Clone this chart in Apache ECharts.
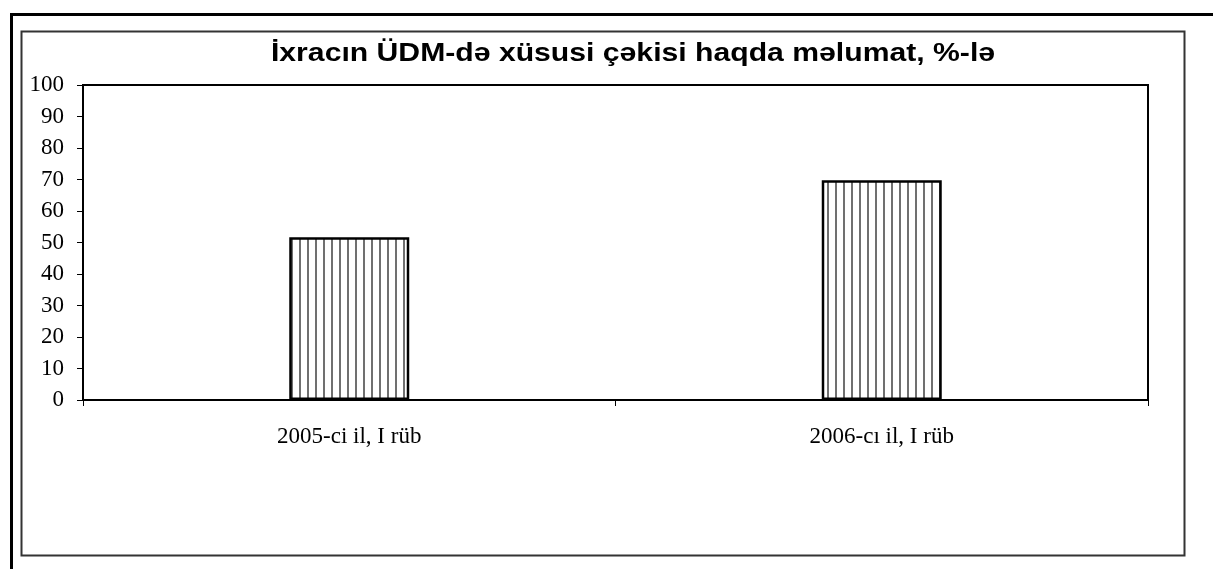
<!DOCTYPE html>
<html>
<head>
<meta charset="utf-8">
<script src="https://cdn.jsdelivr.net/npm/echarts@6/dist/echarts.min.js"></script>
<style>html,body{margin:0;padding:0;background:#fff;}#c{width:1213px;height:569px;}</style>
</head>
<body>
<div id="c"></div>
<script>
const titleText = 'İxracın ÜDM-də xüsusi çəkisi haqda məlumat, %-lə';
const categories = ['2005-ci il, I rüb', '2006-cı il, I rüb'];
const values = [51.7, 69.8];
const yTicks = { min: 0, max: 100, interval: 10 };

const pat = document.createElement('canvas');
pat.width = 8; pat.height = 8;
const pc = pat.getContext('2d');
pc.fillStyle = '#ffffff'; pc.fillRect(0, 0, 8, 8);
pc.fillStyle = '#707070'; pc.fillRect(3, 0, 2, 8);

const chart = echarts.init(document.getElementById('c'), null, { renderer: 'canvas' });
chart.setOption({
  animation: false,
  backgroundColor: '#ffffff',
  graphic: [
    { type: 'rect', silent: true, z: 0, shape: { x: 11.5, y: 14.5, width: 1400, height: 800 },
      style: { fill: null, stroke: '#000', lineWidth: 3 } },
    { type: 'rect', silent: true, z: 0, shape: { x: 21.5, y: 31.5, width: 1163, height: 524 },
      style: { fill: null, stroke: '#333', lineWidth: 2 } },
    { type: 'text', silent: true, z: 10, x: 633, y: 54, scaleX: 1.16, originX: 0, originY: 0,
      style: { text: titleText, fill: '#000', font: 'bold 26px "Liberation Sans", Arial, sans-serif',
        align: 'center', verticalAlign: 'middle' } }
  ],
  grid: { left: 83, right: 65, top: 85, bottom: 169, show: true, borderColor: '#000', borderWidth: 2, backgroundColor: 'transparent' },
  xAxis: {
    type: 'category',
    data: categories,
    boundaryGap: true,
    axisLine: { show: true, lineStyle: { color: '#000', width: 2 } },
    axisTick: { show: true, length: 6, lineStyle: { color: '#000', width: 1 } },
    axisLabel: { color: '#000', fontFamily: '"Liberation Serif", "Times New Roman", serif', fontSize: 23, margin: 25 }
  },
  yAxis: {
    type: 'value',
    min: yTicks.min, max: yTicks.max, interval: yTicks.interval,
    axisLine: { show: true, lineStyle: { color: '#000', width: 2 } },
    axisTick: { show: true, length: 6, lineStyle: { color: '#000', width: 1 } },
    splitLine: { show: false },
    axisLabel: { color: '#000', fontFamily: '"Liberation Serif", "Times New Roman", serif', fontSize: 23, margin: 19 }
  },
  series: [{
    type: 'bar',
    data: values,
    barWidth: 120,
    itemStyle: { color: { image: pat, repeat: 'repeat' }, borderColor: '#000', borderWidth: 2.5 }
  }]
});
</script>
</body>
</html>
